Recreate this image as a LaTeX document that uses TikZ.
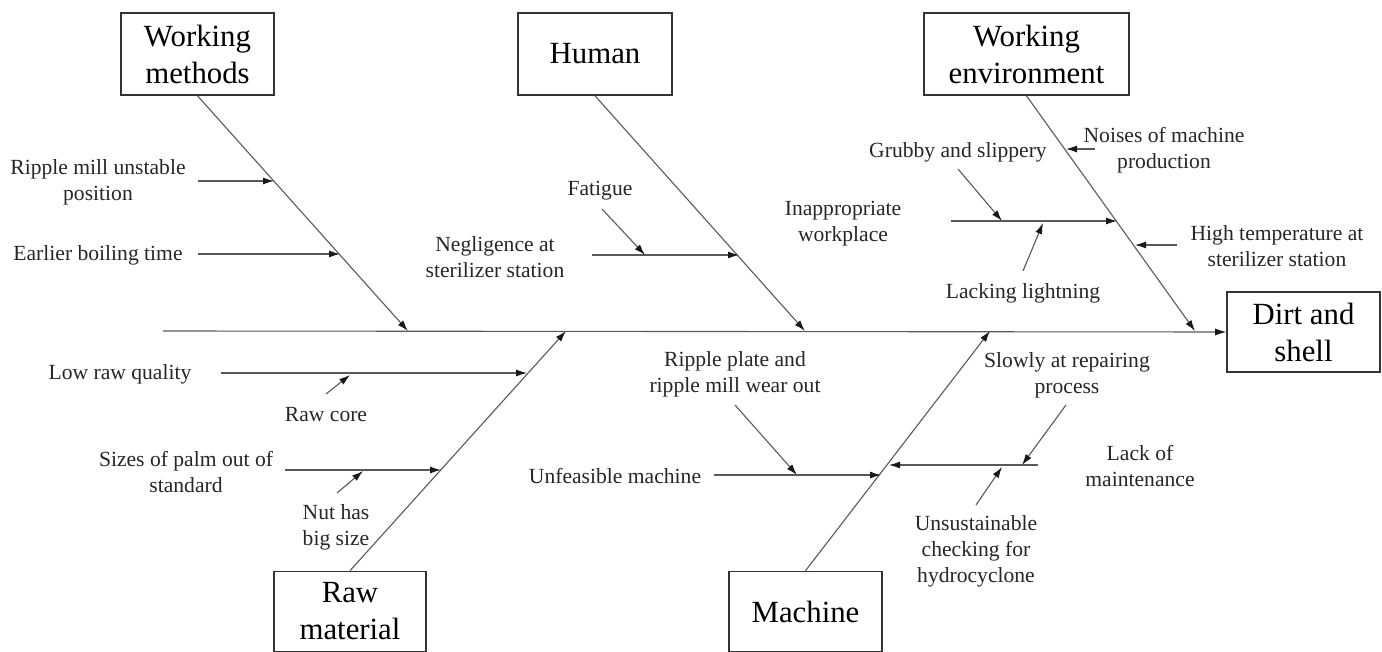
\documentclass[tikz,border=0pt]{standalone}
\usepackage{fontspec}
\setmainfont{Liberation Serif}
\usetikzlibrary{arrows.meta}
\begin{document}
\begin{tikzpicture}[x=0.5pt,y=-0.5pt,
 box/.style={draw=black!80,line width=0.8pt,inner sep=0pt,align=center,font=\fontsize{15.4}{18.5}\selectfont},
 lbl/.style={align=center,inner sep=0pt,font=\fontsize{10.8}{13}\selectfont,text=black!85},
 bone/.style={draw=black!65,line width=0.55pt},
 arr/.style={bone,-{Latex[length=5.5pt,width=3.5pt,color=black!90]}}]
\useasboundingbox (0,0) rectangle (1382,652);
% category boxes
\node[box,minimum width=76.5pt,minimum height=41pt] (wm) at (197.5,54) {Working\\methods};
\node[box,minimum width=77pt,minimum height=41pt] (hu) at (595,54) {Human};
\node[box,minimum width=102.5pt,minimum height=41pt] (we) at (1026.5,54) {Working\\environment};
\node[box,minimum width=76.5pt,minimum height=40pt] (ds) at (1303.5,332) {Dirt and\\shell};
\node[box,minimum width=76pt,minimum height=40pt] (rm) at (350,611.5) {Raw\\material};
\node[box,minimum width=76.5pt,minimum height=40pt] (ma) at (805.5,611.5) {Machine};
% spine
\coordinate (sp0) at (163,331);
\draw[arr] (sp0) -- (ds.west);
% main bones
\coordinate (wmE) at (408,331);
\coordinate (huE) at (805,331);
\coordinate (weE) at (1195,331);
\coordinate (rmE) at (566,331);
\coordinate (maE) at (990,331);
\draw[arr] (wm.south) -- (wmE);
\draw[arr] (hu.south) -- (huE);
\draw[arr] (we.south) -- (weE);
\draw[arr] (rm.north) -- (rmE);
\draw[arr] (ma.north) -- (maE);
% Working methods
\node[lbl] (t1) at (98,182) {Ripple mill unstable\\position};
\coordinate (a1s) at (198,181); \coordinate (a1e) at (274,181);
\draw[arr] (a1s) -- (a1e);
\node[lbl] (t2) at (98,255) {Earlier boiling time};
\coordinate (a2s) at (198,254); \coordinate (a2e) at (340,254);
\draw[arr] (a2s) -- (a2e);
% Human
\node[lbl] (t3) at (495,257) {Negligence at\\sterilizer station};
\coordinate (a3s) at (592,255); \coordinate (a3e) at (739,255);
\draw[arr] (a3s) -- (a3e);
\node[lbl] (t4) at (600,191) {Fatigue};
\coordinate (a4s) at (602,209); \coordinate (a4e) at (645,255);
\draw[arr] (a4s) -- (a4e);
% Working environment
\node[lbl] (t5) at (1164,150) {Noises of machine\\production};
\coordinate (a5s) at (1095,149); \coordinate (a5e) at (1066,149);
\draw[arr] (a5s) -- (a5e);
\node[lbl] (t6) at (958,152) {Grubby and slippery};
\coordinate (a6s) at (958,169); \coordinate (a6e) at (1002,221);
\draw[arr] (a6s) -- (a6e);
\node[lbl] (t7) at (843,224) {Inappropriate\\workplace};
\coordinate (a7s) at (951,221); \coordinate (a7e) at (1117,221);
\draw[arr] (a7s) -- (a7e);
\node[lbl] (t8) at (1023,293) {Lacking lightning};
\coordinate (a8s) at (1023,271); \coordinate (a8e) at (1043,223);
\draw[arr] (a8s) -- (a8e);
\node[lbl] (t9) at (1277,246) {High temperature at\\sterilizer station};
\coordinate (a9s) at (1177,245); \coordinate (a9e) at (1135,245);
\draw[arr] (a9s) -- (a9e);
% Raw material
\node[lbl] (t10) at (120,374) {Low raw quality};
\coordinate (a10s) at (221,373); \coordinate (a10e) at (527,373);
\draw[arr] (a10s) -- (a10e);
\node[lbl] (t11) at (326,415) {Raw core};
\coordinate (a11s) at (326,394); \coordinate (a11e) at (350,375);
\draw[arr] (a11s) -- (a11e);
\node[lbl] (t12) at (186,472) {Sizes of palm out of\\standard};
\coordinate (a12s) at (285,470); \coordinate (a12e) at (441,470);
\draw[arr] (a12s) -- (a12e);
\node[lbl] (t13) at (336,527) {Nut has\\big size};
\coordinate (a13s) at (337,493); \coordinate (a13e) at (363,471);
\draw[arr] (a13s) -- (a13e);
% Machine
\node[lbl] (t14) at (735,374) {Ripple plate and\\ripple mill wear out};
\coordinate (a14s) at (735,405); \coordinate (a14e) at (797,475);
\draw[arr] (a14s) -- (a14e);
\node[lbl] (t15) at (615,476) {Unfeasible machine};
\coordinate (a15s) at (714,475); \coordinate (a15e) at (881,475);
\draw[arr] (a15s) -- (a15e);
\node[lbl] (t16) at (1067,375) {Slowly at repairing\\process};
\coordinate (a16s) at (1066,405); \coordinate (a16e) at (1022,465);
\draw[arr] (a16s) -- (a16e);
\node[lbl] (t17) at (1140,466) {Lack of\\maintenance};
\coordinate (a17s) at (1038,465); \coordinate (a17e) at (889,465);
\draw[arr] (a17s) -- (a17e);
\node[lbl] (t18) at (976,551) {Unsustainable\\checking for\\hydrocyclone};
\coordinate (a18s) at (976,505); \coordinate (a18e) at (1002,467);
\draw[arr] (a18s) -- (a18e);
\end{tikzpicture}
\end{document}
